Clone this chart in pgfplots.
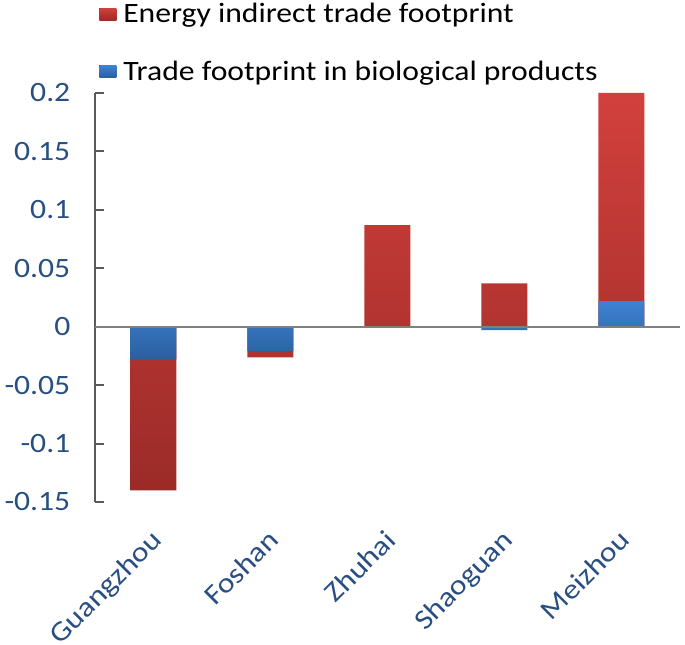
\documentclass[border=0pt]{standalone}
\usepackage{pgfplots}
\pgfplotsset{compat=1.18}
\usepackage{pgfplotstable}
\usepackage{fontspec}
\setmainfont{Carlito}[FakeStretch=1.13]
\definecolor{lblue}{RGB}{40,78,130}
\definecolor{redtop}{RGB}{210,64,60}
\definecolor{redbot}{RGB}{155,43,40}
\definecolor{bluetop}{RGB}{62,130,210}
\definecolor{bluebot}{RGB}{42,95,158}
\definecolor{axgray}{RGB}{89,89,89}

% bio = trade footprint in biological products, energy = energy indirect trade footprint
\pgfplotstableread{
idx city bio energy
0 Guangzhou -0.028 -0.112
1 Foshan -0.0207 -0.0055
2 Zhuhai 0 0.087
3 Shaoguan -0.003 0.037
4 Meizhou 0.022 0.178
}\data

\begin{document}
\begin{tikzpicture}
\useasboundingbox (-71.25pt,-107.25pt) rectangle (442.5pt,376.5pt);
\begin{axis}[
  width=438.75pt, height=306.75pt, scale only axis,
  xmin=-0.5, xmax=4.5, ymin=-0.15, ymax=0.2,
  axis y line*=left, axis x line*=bottom,
  x axis line style={draw=none},
  y axis line style={axgray, line width=1.5pt, -},
  xtick={0,...,4},
  xticklabels={Guangzhou,Foshan,Zhuhai,Shaoguan,Meizhou},
  xtick style={draw=none},
  ytick={-0.15,-0.1,-0.05,0,0.05,0.1,0.15,0.2},
  yticklabels={-0.15,-0.1,-0.05,0,0.05,0.1,0.15,0.2},
  ytick style={axgray, line width=1.5pt},
  tick align=inside, major tick length=6.75pt,
  ticklabel style={font=\fontsize{21}{25}\selectfont, text=lblue},
  yticklabel style={xshift=-15pt},
  xticklabel style={rotate=45, anchor=north east, xshift=-12.5pt, yshift=-8.5pt},
  legend style={at={(rel axis cs:0.0,1.233)}, anchor=north west, draw=none, fill=none,
    font=\fontsize{21}{25}\selectfont, row sep=23pt},
  legend cell align=left,
  legend image code/.code={\fill[#1] (0pt,-4.5pt) rectangle (12.75pt,4.5pt); \path (16pt,0pt);},
  clip=false,
]
\addplot[ybar, bar width=34.5pt, bar shift=0pt, draw=none, top color=redtop, bottom color=redbot]
  table[x=idx, y expr={\thisrow{energy}+(\thisrow{bio}*\thisrow{energy}>0)*\thisrow{bio}}] \data;
\addlegendentry{Energy indirect trade footprint}
\addplot[ybar, bar width=34.5pt, bar shift=0pt, draw=none, top color=bluetop, bottom color=bluebot]
  table[x=idx, y=bio] \data;
\addlegendentry{Trade footprint in biological products}
\draw[gray, line width=1.5pt] (axis cs:-0.5,0) -- (axis cs:4.5,0);
\end{axis}
\end{tikzpicture}
\end{document}
